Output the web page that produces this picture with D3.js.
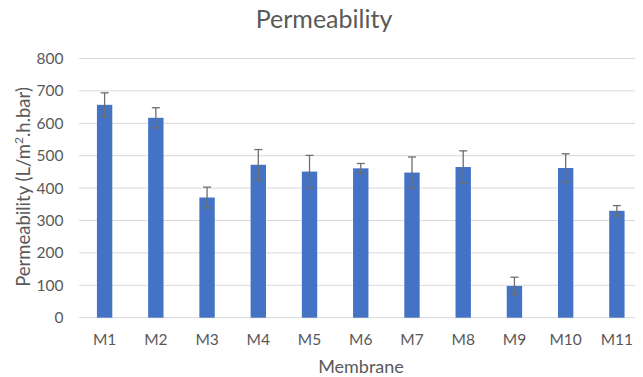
<!DOCTYPE html>
<html><head><meta charset="utf-8">
<script src="https://cdn.jsdelivr.net/npm/d3@7"></script>
<style>body{margin:0;background:#fff;}svg{display:block;}</style>
</head><body>
<script>
const categories = ["M1","M2","M3","M4","M5","M6","M7","M8","M9","M10","M11"];
const values = [657, 617, 371, 472, 451, 461, 448, 465, 98, 462, 330];
const errors = [37, 31, 32, 47, 50, 15, 48, 50, 27, 44, 16];
const yTicks = [0,100,200,300,400,500,600,700,800];

(function () {
const W = 643, H = 377;
const plotLeft = 79, plotRight = 642.5, plotTop = 58.5, plotBottom = 317.7, gridRight = 635;
const font = "Lato, 'Open Sans', sans-serif";
const textColor = "#595959";

const svg = d3.select("body").append("svg").attr("width", W).attr("height", H);

const x = d3.scaleBand().domain(categories).range([plotLeft, plotRight]).paddingInner(0.7).paddingOuter(0.35);
const y = d3.scaleLinear().domain([0, 800]).range([plotBottom, plotTop]);

// gridlines
svg.append("g").selectAll("line").data(yTicks).join("line")
  .attr("x1", plotLeft).attr("x2", gridRight)
  .attr("y1", d => y(d)).attr("y2", d => y(d))
  .attr("stroke", "#d9d9d9").attr("stroke-width", 1);

// y axis labels
const yAxis = d3.axisLeft(y).tickValues(yTicks).tickSize(0).tickPadding(0);
const gy = svg.append("g").attr("transform", `translate(${plotLeft - 15.5},0)`).call(yAxis);
gy.select(".domain").remove();
gy.selectAll("text").attr("font-family", font).attr("font-size", 15.5).attr("fill", textColor);

// x axis labels
const xAxis = d3.axisBottom(x).tickSize(0).tickPadding(0);
const gx = svg.append("g").attr("transform", `translate(0,${plotBottom + 16.3})`).call(xAxis);
gx.select(".domain").remove();
gx.selectAll("text").attr("font-family", font).attr("font-size", 15.5).attr("fill", textColor);

// bars
svg.append("g").selectAll("rect").data(categories).join("rect")
  .attr("x", d => x(d)).attr("width", x.bandwidth())
  .attr("y", (d,i) => y(values[i])).attr("height", (d,i) => plotBottom - y(values[i]))
  .attr("fill", "#4472c4");

// error bars
const eg = svg.append("g").attr("stroke", "#6e6e6e").attr("stroke-width", 1.3);
categories.forEach((c, i) => {
  const cx = x(c) + x.bandwidth() / 2;
  const hi = y(values[i] + errors[i]), lo = y(values[i] - errors[i]);
  eg.append("line").attr("x1", cx).attr("x2", cx).attr("y1", hi).attr("y2", lo);
  eg.append("line").attr("x1", cx - 4).attr("x2", cx + 4).attr("y1", hi).attr("y2", hi);
  eg.append("line").attr("x1", cx - 4).attr("x2", cx + 4).attr("y1", lo).attr("y2", lo);
});

// title
svg.append("text").attr("x", 324).attr("y", 27.5).attr("text-anchor", "middle")
  .attr("font-family", font).attr("font-size", 25).attr("fill", textColor).text("Permeability");

// x title
svg.append("text").attr("x", 361).attr("y", 373).attr("text-anchor", "middle")
  .attr("font-family", font).attr("font-size", 18).attr("fill", textColor).text("Membrane");

// y title
const yt = svg.append("text").attr("transform", "translate(30,187) rotate(-90)")
  .attr("text-anchor", "middle").attr("font-family", font).attr("font-size", 18.5).attr("fill", textColor);
yt.append("tspan").text("Permeability (L/m");
yt.append("tspan").attr("baseline-shift", "super").attr("font-size", 12).text("2");
yt.append("tspan").text(".h.bar)");
})();
</script>
</body></html>
